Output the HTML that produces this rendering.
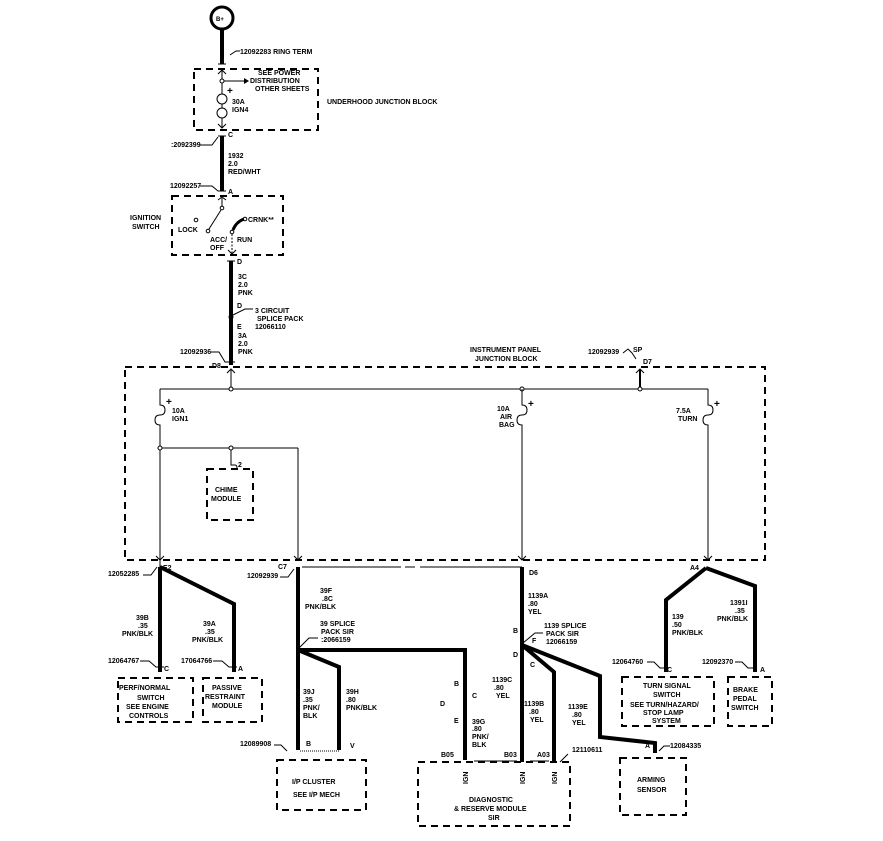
<!DOCTYPE html>
<html><head><meta charset="utf-8"><style>
html,body{margin:0;padding:0;background:#fff}
svg{display:block}
text{font-family:"Liberation Sans",sans-serif;font-size:7px;font-weight:bold;fill:#000}
.d{fill:none;stroke:#000;stroke-width:2;stroke-dasharray:7,5}
.t{fill:none;stroke:#000;stroke-width:1}
.w{fill:none;stroke:#000;stroke-width:4;stroke-linejoin:miter}
.c{fill:#fff;stroke:#000;stroke-width:1}
</style></head><body>
<svg width="883" height="841" viewBox="0 0 883 841" xmlns="http://www.w3.org/2000/svg">
<!-- B+ -->
<circle cx="222" cy="18" r="11" fill="#fff" stroke="#000" stroke-width="3"/>
<text x="216" y="21" style="font-size:6px">B+</text>
<line class="w" x1="222" y1="29" x2="222" y2="64"/>
<path class="t" d="M218 64h8M230 55l6-4h4"/>
<text x="240" y="54">12092283  RING TERM</text>
<!-- underhood -->
<rect class="d" x="194" y="69" width="124" height="61"/>
<line class="t" x1="222" y1="70" x2="222" y2="128"/>
<path class="t" d="M218 74l4-4 4 4M218 124l4 4 4-4"/>
<circle class="c" cx="222" cy="81" r="2"/>
<path class="t" d="M224 81h20"/><path d="M244 78l5 3-5 3z"/>
<text x="258" y="75">SEE POWER</text><text x="250" y="83">DISTRIBUTION</text><text x="255" y="91">OTHER SHEETS</text>
<circle class="c" cx="222" cy="99" r="5"/><circle class="c" cx="222" cy="113" r="5"/>
<text x="227" y="94" style="font-size:10px">+</text>
<text x="232" y="104">30A</text><text x="232" y="112">IGN4</text>
<text x="327" y="104">UNDERHOOD JUNCTION BLOCK</text>
<text x="228" y="137">C</text>
<path class="t" d="M218 136h8M200 145h12l6-8"/>
<text x="171" y="147">:2092399</text>
<line class="w" x1="222" y1="136" x2="222" y2="191"/>
<text x="228" y="158">1932</text><text x="228" y="166">2.0</text><text x="228" y="174">RED/WHT</text>
<text x="170" y="188">12092257</text>
<path class="t" d="M200 186h12l6 5h8"/><text x="228" y="194">A</text>
<!-- ignition -->
<rect class="d" x="172" y="196" width="111" height="59"/>
<text x="130" y="220">IGNITION</text><text x="132" y="229">SWITCH</text>
<path class="t" d="M218 200l4-3 4 3M222 198v9"/>
<circle class="c" cx="222" cy="208" r="1.8"/>
<line class="t" x1="221" y1="210" x2="209" y2="229"/>
<circle class="c" cx="208" cy="231" r="1.8"/>
<circle class="c" cx="196" cy="220" r="1.8"/>
<text x="178" y="232">LOCK</text>
<circle class="c" cx="245" cy="219" r="1.8"/>
<path d="M233 230q3-8 11-11" fill="none" stroke="#000" stroke-width="3"/>
<circle class="c" cx="232" cy="232" r="1.8"/>
<text x="248" y="222">CRNK**</text>
<text x="210" y="242">ACC/</text><text x="210" y="250">OFF</text><text x="237" y="242">RUN</text>
<line class="t" x1="232" y1="234" x2="232" y2="253" stroke-dasharray="2,1.5"/>
<path class="t" d="M228 250l4 4 4-4"/>
<line class="w" x1="231" y1="261" x2="231" y2="365"/>
<path class="t" d="M227 261h8"/>
<text x="237" y="264">D</text>
<text x="238" y="279">3C</text><text x="238" y="287">2.0</text><text x="238" y="295">PNK</text>
<text x="237" y="308">D</text>
<circle cx="231" cy="317" r="2.5"/>
<path class="t" d="M233 315l12-6h8"/>
<text x="255" y="313">3 CIRCUIT</text><text x="257" y="321">SPLICE PACK</text><text x="255" y="329">12066110</text>
<text x="237" y="329">E</text>
<text x="238" y="338">3A</text><text x="238" y="346">2.0</text><text x="238" y="354">PNK</text>
<text x="180" y="354">12092936</text>
<path class="t" d="M211 352h8l6 10h10"/>
<text x="212" y="368">D8</text>
<!-- IP JB -->
<rect class="d" x="125" y="367" width="640" height="193"/>
<text x="470" y="352">INSTRUMENT PANEL</text><text x="475" y="361">JUNCTION BLOCK</text>
<text x="588" y="354">12092939</text>
<path class="t" d="M623 353l5-4 4 4 4 6"/><text x="633" y="352">SP</text><text x="643" y="364">D7</text>
<path class="t" d="M227 373l4-4 4 4M231 370v19"/>
<path class="t" d="M636 373l4-4 4 4"/><line x1="640" y1="370" x2="640" y2="389" stroke="#000" stroke-width="2"/>
<line class="t" x1="160" y1="389" x2="708" y2="389"/>
<circle class="c" cx="231" cy="389" r="2"/><circle class="c" cx="522" cy="389" r="2"/><circle class="c" cx="640" cy="389" r="2"/>
<!-- fuses -->
<path class="t" d="M160 389v16q5 0 5 5t-5 5q-5 0-5 5t5 5v143"/>
<text x="166" y="405" style="font-size:10px">+</text>
<text x="172" y="413">10A</text><text x="172" y="421">IGN1</text>
<path class="t" d="M522 389v16q5 0 5 5t-5 5q-5 0-5 5t5 5v135"/>
<text x="528" y="407" style="font-size:10px">+</text>
<text x="497" y="411">10A</text><text x="500" y="419">AIR</text><text x="499" y="427">BAG</text>
<path class="t" d="M708 389v16q5 0 5 5t-5 5q-5 0-5 5t5 5v135"/>
<text x="714" y="407" style="font-size:10px">+</text>
<text x="676" y="413">7.5A</text><text x="678" y="421">TURN</text>
<line class="t" x1="160" y1="448" x2="298" y2="448"/><line class="t" x1="298" y1="448" x2="298" y2="560"/>
<circle class="c" cx="160" cy="448" r="2"/><circle class="c" cx="231" cy="448" r="2"/>
<path class="t" d="M231 450v15h4q2 0 2 3"/>
<text x="238" y="467">2</text>
<rect class="d" x="207" y="469" width="46" height="51"/>
<text x="215" y="492">CHIME</text><text x="211" y="501">MODULE</text>
<path class="t" d="M156 556l4 4 4-4M294 556l4 4 4-4M518 556l4 4 4-4M704 556l4 4 4-4"/>
<!-- lower left -->
<text x="163" y="570">E2</text><text x="108" y="576">12052285</text>
<path class="t" d="M143 575h8l6-8"/>
<path class="w" d="M160 567V672M160 567L234 604V672"/>
<text x="136" y="620">39B</text><text x="138" y="628">.35</text><text x="122" y="636">PNK/BLK</text>
<text x="203" y="626">39A</text><text x="205" y="634">.35</text><text x="192" y="642">PNK/BLK</text>
<text x="108" y="663">12064767</text><path class="t" d="M140 661h9l7 6h8"/><text x="164" y="671">C</text>
<text x="181" y="663">17064766</text><path class="t" d="M213 661h9l7 6h8"/><text x="238" y="671">A</text>
<rect class="d" x="118" y="678" width="75" height="44"/>
<text x="119" y="690">PERF/NORMAL</text><text x="137" y="700">SWITCH</text><text x="126" y="709">SEE ENGINE</text><text x="129" y="718">CONTROLS</text>
<rect class="d" x="203" y="678" width="59" height="44"/>
<text x="212" y="690">PASSIVE</text><text x="205" y="699">RESTRAINT</text><text x="212" y="708">MODULE</text>
<!-- C7 -->
<text x="278" y="569">C7</text><text x="247" y="578">12092939</text><path class="t" d="M280 577h8l6-8"/>
<path class="t" d="M302 567h99M405 567h10M420 567h102"/>
<path class="w" d="M298 567V750M298 650L339 667V750M298 650H465V760"/>
<text x="320" y="593">39F</text><text x="322" y="601">.8C</text><text x="305" y="609">PNK/BLK</text>
<path class="t" d="M299 648l10-10h9"/>
<text x="320" y="626">39 SPLICE</text><text x="321" y="634">PACK  SIR</text><text x="321" y="642">:2066159</text>
<text x="303" y="694">39J</text><text x="303" y="702">.35</text><text x="303" y="710">PNK/</text><text x="303" y="718">BLK</text>
<text x="346" y="694">39H</text><text x="346" y="702">.80</text><text x="346" y="710">PNK/BLK</text>
<text x="240" y="746">12089908</text><path class="t" d="M274 745h7l6 6"/>
<text x="306" y="746">B</text><text x="350" y="748">V</text>
<path class="t" d="M300 751h39" stroke-dasharray="1,1"/>
<rect class="d" x="277" y="760" width="89" height="50"/>
<text x="292" y="784">I/P CLUSTER</text><text x="293" y="797">SEE I/P MECH</text>
<text x="454" y="686">B</text><text x="440" y="706">D</text><text x="454" y="723">E</text>
<text x="472" y="698">C</text><text x="472" y="724">39G</text><text x="472" y="731">.80</text><text x="472" y="739">PNK/</text><text x="472" y="747">BLK</text>
<!-- D6 -->
<text x="529" y="575">D6</text>
<path class="w" d="M522 567V762M522 645L554 672V762M522 645L600 676V737L655 743V753"/>
<text x="528" y="598">1139A</text><text x="528" y="606">.80</text><text x="528" y="614">YEL</text>
<path class="t" d="M523 643l12-10h8"/>
<text x="544" y="628">1139 SPLICE</text><text x="546" y="636">PACK  SIR</text><text x="546" y="644">12066159</text>
<text x="513" y="633">B</text><text x="513" y="657">D</text><text x="532" y="643">F</text><text x="530" y="667">C</text>
<text x="492" y="682">1139C</text><text x="494" y="690">.80</text><text x="496" y="698">YEL</text>
<text x="524" y="706">1139B</text><text x="529" y="714">.80</text><text x="530" y="722">YEL</text>
<text x="568" y="709">1139E</text><text x="572" y="717">.80</text><text x="572" y="725">YEL</text>
<text x="441" y="757">B05</text><text x="504" y="757">B03</text><text x="537" y="757">A03</text>
<path class="t" d="M474 761h43M530 761h19M560 762l8-8"/>
<text x="572" y="752">12110611</text>
<rect class="d" x="418" y="762" width="152" height="64"/>
<g transform="translate(468,784) rotate(-90)"><text x="0" y="0">IGN</text></g>
<g transform="translate(525,784) rotate(-90)"><text x="0" y="0">IGN</text></g>
<g transform="translate(557,784) rotate(-90)"><text x="0" y="0">IGN</text></g>
<text x="469" y="802">DIAGNOSTIC</text><text x="454" y="811">&amp; RESERVE MODULE</text><text x="488" y="820">SIR</text>
<text x="645" y="748">A</text><path class="t" d="M659 751l5-5h6"/><text x="670" y="748">12084335</text>
<rect class="d" x="620" y="758" width="66" height="57"/>
<text x="637" y="782">ARMING</text><text x="637" y="792">SENSOR</text>
<!-- A4 -->
<text x="690" y="570">A4</text>
<path class="w" d="M706 568L666 600V672M706 568L755 586V672"/>
<text x="672" y="619">139</text><text x="672" y="627">.50</text><text x="672" y="635">PNK/BLK</text>
<text x="730" y="605">1391I</text><text x="735" y="613">.35</text><text x="717" y="621">PNK/BLK</text>
<text x="612" y="664">12064760</text><path class="t" d="M647 662h7l6 6h9"/><text x="667" y="672">C</text>
<text x="702" y="664">12092370</text><path class="t" d="M735 662h7l6 6h9"/><text x="760" y="672">A</text>
<rect class="d" x="622" y="677" width="92" height="49"/>
<text x="643" y="688">TURN SIGNAL</text><text x="653" y="697">SWITCH</text><text x="630" y="707">SEE TURN/HAZARD/</text><text x="643" y="715">STOP LAMP</text><text x="652" y="723">SYSTEM</text>
<rect class="d" x="728" y="677" width="44" height="49"/>
<text x="733" y="692">BRAKE</text><text x="733" y="701">PEDAL</text><text x="731" y="710">SWITCH</text>
</svg>
</body></html>
